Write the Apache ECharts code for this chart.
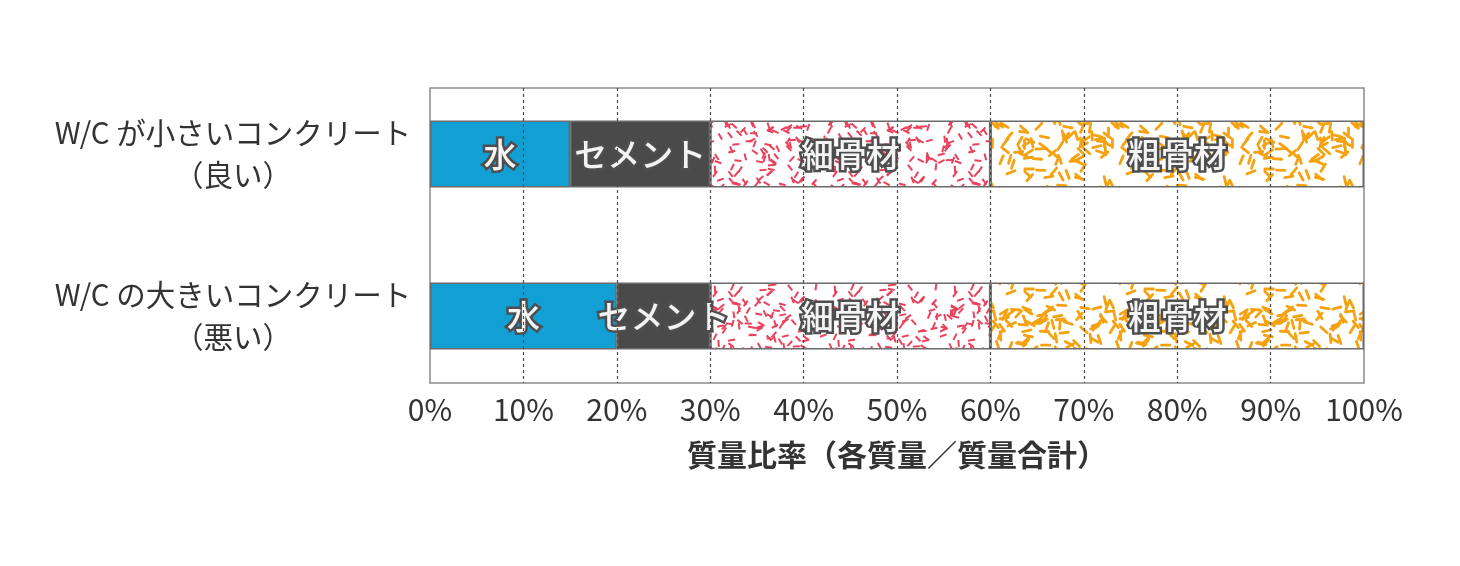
<!DOCTYPE html>
<html>
<head>
<meta charset="utf-8">
<script src="https://cdn.jsdelivr.net/npm/echarts@6/dist/echarts.min.js"></script>
<style>
	html, body { margin: 0; padding: 0; background: #fff; }
	#chart { width: 1460px; height: 566px; }
</style>
</head>
<body>
<div id="chart"></div>
<script>
const categories = ['W/C が小さいコンクリート\n（良い）', 'W/C の大きいコンクリート\n（悪い）'];
const waterData = [15, 20];
const cementData = [15, 10];
const fineData = [30, 30];
const coarseData = [40, 40];
const segmentNames = ['水', 'セメント', '細骨材', '粗骨材'];
const tickValues = [0, 10, 20, 30, 40, 50, 60, 70, 80, 90, 100];

// 骨材の模様（短い線をばらまいたタイル）
function makePattern(color, count, len, width, cap, seed) {
	let cvs = document.createElement('canvas');
	cvs.width = 120;
	cvs.height = 120;
	let ctx = cvs.getContext('2d');
	let s = seed;
	let rnd = function() {
		s = (s * 16807) % 2147483647;
		return s / 2147483647;
	};
	ctx.strokeStyle = color;
	ctx.lineWidth = width;
	ctx.lineCap = cap;
	for (let i = 0; i < count; i++) {
		let x = rnd() * 120, y = rnd() * 120, a = rnd() * Math.PI;
		let dx = Math.cos(a) * len / 2, dy = Math.sin(a) * len / 2;
		for (let ox = -120; ox <= 120; ox += 120) {
			for (let oy = -120; oy <= 120; oy += 120) {
				ctx.beginPath();
				ctx.moveTo(x - dx + ox, y - dy + oy);
				ctx.lineTo(x + dx + ox, y + dy + oy);
				ctx.stroke();
			}
		}
	}
	return cvs;
}

const chart = echarts.init(document.getElementById('chart'), null, { renderer: 'canvas' });

const labelStyle = {
	show: true,
	position: 'inside',
	formatter: '{a}',
	color: '#f4f4f4',
	fontSize: 33,
	fontWeight: 500,
	fontFamily: 'Noto Sans CJK JP',
	textBorderColor: '#4e4e4e',
	textBorderWidth: 5
};

function barSeries(name, data, fill) {
	return {
		name: name,
		type: 'bar',
		stack: 'total',
		xAxisIndex: 1,
		yAxisIndex: 1,
		barWidth: 67,
		data: data,
		itemStyle: { color: fill, borderColor: '#6a6a6a', borderWidth: 1.5 },
		label: labelStyle,
		silent: true
	};
}

const splitColors = tickValues.map(function(v) {
	return (v === 0 || v === 100) ? 'rgba(0,0,0,0)' : '#4a4a4a';
});

const option = {
	backgroundColor: '#fff',
	animation: false,
	grid: [
		{ left: 430, right: 96, top: 88, height: 295, show: true, borderColor: '#8a8a8a', borderWidth: 1.5, backgroundColor: 'transparent' },
		{ left: 430, right: 96, top: 73, height: 324 }
	],
	xAxis: [
		{
			gridIndex: 0,
			type: 'value',
			min: 0,
			max: 100,
			interval: 10,
			z: 10,
			axisLine: { show: false },
			axisTick: { show: false },
			axisLabel: {
				formatter: '{value}%',
				color: '#333',
				fontSize: 30,
				fontFamily: 'Noto Sans CJK JP',
				margin: 12
			},
			splitLine: {
				show: true,
				lineStyle: { color: splitColors, width: 1.2, type: [3, 3] }
			},
			name: '質量比率（各質量／質量合計）',
			nameLocation: 'middle',
			nameGap: 57,
			nameTextStyle: {
				color: '#333',
				fontSize: 30,
				fontWeight: 'bold',
				fontFamily: 'Noto Sans CJK JP'
			}
		},
		{
			gridIndex: 1,
			type: 'value',
			min: 0,
			max: 100,
			show: false
		}
	],
	yAxis: [
		{ gridIndex: 0, type: 'value', show: false },
		{
			gridIndex: 1,
			type: 'category',
			inverse: true,
			data: categories,
			axisLine: { show: false },
			axisTick: { show: false },
			splitLine: { show: false },
			axisLabel: {
				align: 'center',
				margin: 197,
				color: '#333',
				fontSize: 29.5,
				lineHeight: 42,
				fontFamily: 'Noto Sans CJK JP'
			}
		}
	],
	series: [
		barSeries(segmentNames[0], waterData, '#129fd3'),
		barSeries(segmentNames[1], cementData, '#4a4a4a'),
		barSeries(segmentNames[2], fineData, { image: makePattern('#e8425c', 210, 7, 2, 'butt', 12345), repeat: 'repeat' }),
		barSeries(segmentNames[3], coarseData, { image: makePattern('#f5a210', 165, 8.5, 2.8, 'round', 67890), repeat: 'repeat' })
	]
};

chart.setOption(option);
window.onresize = function() {
	chart.resize();
};
</script>
</body>
</html>
